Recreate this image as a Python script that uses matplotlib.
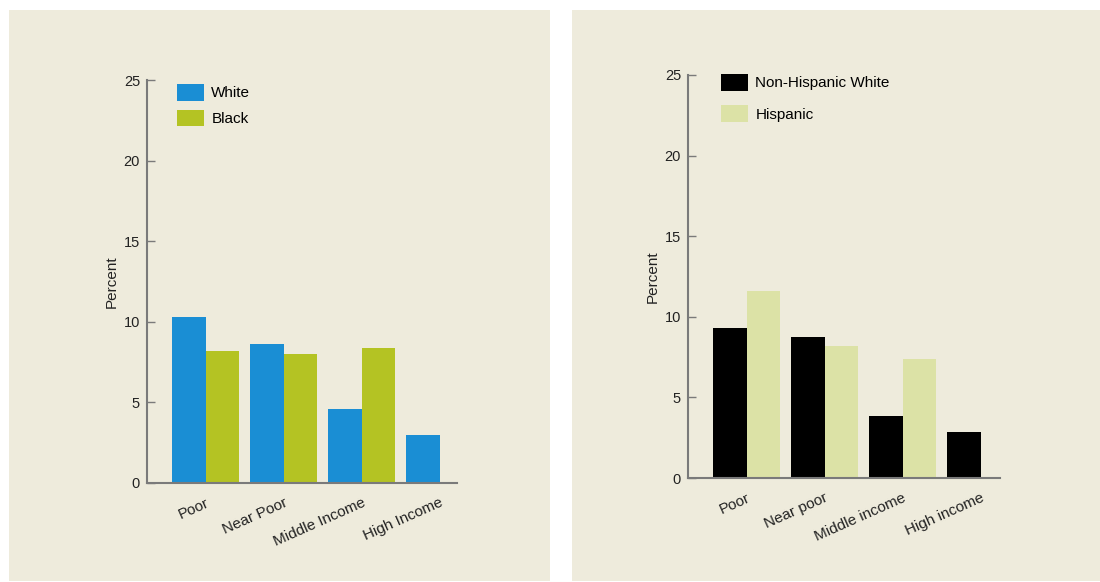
import matplotlib
matplotlib.use("Agg")
import matplotlib.pyplot as plt
from matplotlib.patches import Rectangle, Patch
import numpy as np

plt.rcParams['font.family'] = ['Liberation Sans', 'DejaVu Sans']

# Left panel data
left_categories = ["Poor", "Near Poor", "Middle Income", "High Income"]
left_white = [10.3, 8.6, 4.6, 3.0]
left_black = [8.2, 8.0, 8.4, None]

# Right panel data
right_categories = ["Poor", "Near poor", "Middle income", "High income"]
right_nhw = [9.3, 8.75, 3.85, 2.85]
right_hisp = [11.6, 8.2, 7.4, None]

yticks = [0, 5, 10, 15, 20, 25]

BG = "#EEEBDC"
BLUE = "#1A8ED4"
OLIVE = "#B4C323"
BLACK = "#000000"
LIGHT = "#DCE2A6"
AXC = "#7a7a7a"

fig = plt.figure(figsize=(11, 5.82), dpi=100)
fig.patch.set_facecolor("white")

W, H = 1100, 582
def panel(x0, y0, x1, y1):
    fig.add_artist(Rectangle((x0 / W, 1 - y1 / H), (x1 - x0) / W, (y1 - y0) / H,
                             transform=fig.transFigure, facecolor=BG, edgecolor="none", zorder=0))
panel(9, 10, 550, 581)
panel(572, 10, 1100, 581)

def make_axes(rect, cats, s1, s2, c1, c2, lab1, lab2, xlim, legend_anchor, labelspacing, ylab_x):
    ax = fig.add_axes(rect)
    ax.set_facecolor("none")
    x = np.arange(len(cats))
    w = 0.43
    v1 = [np.nan if v is None else v for v in s1]
    v2 = [np.nan if v is None else v for v in s2]
    ax.bar(x - w / 2, v1, width=w, color=c1, edgecolor="none", zorder=2)
    ax.bar(x + w / 2, v2, width=w, color=c2, edgecolor="none", zorder=2)
    ax.set_ylim(0, 25)
    ax.set_xlim(*xlim)
    ax.set_yticks(yticks)
    ax.set_xticks(x)
    ax.set_xticklabels(cats, rotation=24, ha="right", rotation_mode="anchor", fontsize=11, color="#222")
    ax.tick_params(axis="x", length=0, pad=9)
    ax.tick_params(axis="y", direction="in", length=6, width=1, color=AXC, labelsize=10.5, pad=5, labelcolor="#222")
    for s in ["top", "right"]:
        ax.spines[s].set_visible(False)
    for s in ["left", "bottom"]:
        ax.spines[s].set_color(AXC)
        ax.spines[s].set_linewidth(1.5)
    ax.set_ylabel("Percent", fontsize=11, color="#222")
    ax.yaxis.set_label_coords(ylab_x, 0.5)
    handles = [Patch(facecolor=c1, edgecolor="none", label=lab1),
               Patch(facecolor=c2, edgecolor="none", label=lab2)]
    ax.legend(handles=handles, loc="upper left", bbox_to_anchor=legend_anchor, frameon=False,
              fontsize=11, handlelength=1.75, handleheight=1.3, handletextpad=0.5,
              labelspacing=labelspacing, borderaxespad=0, borderpad=0)
    return ax

make_axes([147 / W, 1 - 483 / H, 310 / W, 403 / H], left_categories, left_white, left_black,
          BLUE, OLIVE, "White", "Black", (-0.75, 3.22), ((177 - 147) / 310, (483 - 84) / 403), 0.6, -0.09)
make_axes([688 / W, 1 - 478 / H, 312 / W, 403 / H], right_categories, right_nhw, right_hisp,
          BLACK, LIGHT, "Non-Hispanic White", "Hispanic", (-0.75, 3.25), ((721 - 688) / 312, (478 - 74) / 403), 0.95, -0.09)

fig.savefig("out.png", dpi=100, facecolor="white")
